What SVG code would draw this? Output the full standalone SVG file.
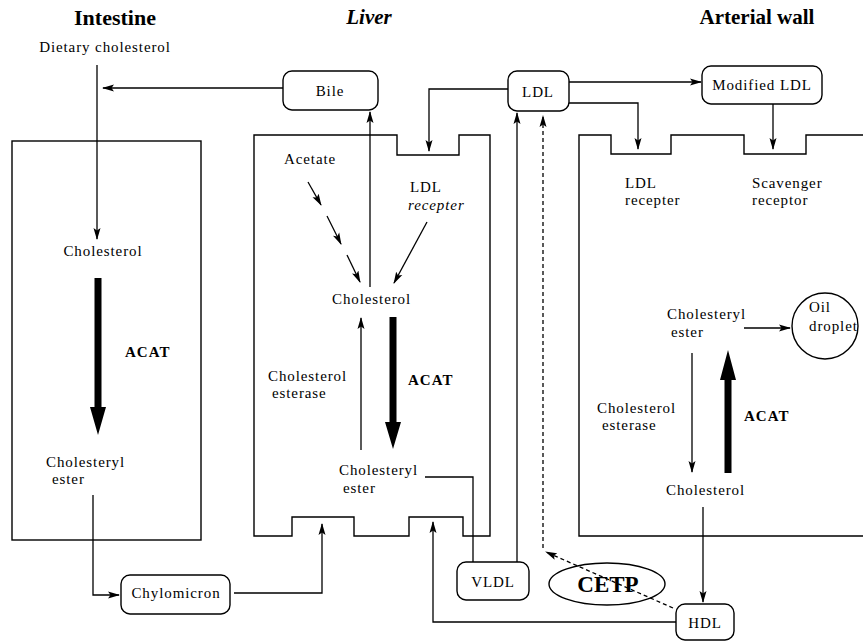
<svg xmlns="http://www.w3.org/2000/svg" width="863" height="641" viewBox="0 0 863 641">
<style>
text{font-family:"Liberation Serif","Times New Roman",serif;font-size:15px;letter-spacing:0.9px;fill:#000}
.t{font-weight:bold;font-size:21px;letter-spacing:0}
.b{font-weight:bold;letter-spacing:1px}
.c{text-anchor:middle}
.i{font-style:italic}
.box{fill:none;stroke:#000;stroke-width:1.4}
.node{fill:#fff;stroke:#000;stroke-width:1.4}
.ln{fill:none;stroke:#000;stroke-width:1.3}
.ar{marker-end:url(#ah)}
.dash{stroke-dasharray:4 3}
.thick{fill:#000;stroke:none}
</style>
<defs>
<marker id="ah" viewBox="0 0 12 8" refX="11" refY="4" markerWidth="12" markerHeight="8" markerUnits="userSpaceOnUse" orient="auto">
<path d="M0,0.5 L12,4 L0,7.5 L2.5,4 z" fill="#000"/>
</marker>
</defs>
<rect width="863" height="641" fill="#fff"/>

<g id="titles">
<text class="t c" x="115" y="25" style="font-size:22px">Intestine</text>
<text class="t c i" x="369" y="24">Liver</text>
<text class="t c" x="757" y="24">Arterial wall</text>
</g>

<g id="intestine">
<rect class="box" x="12" y="141" width="189" height="399"/>
<text class="c" x="105" y="52">Dietary cholesterol</text>
<text class="c" x="103" y="256">Cholesterol</text>
<path class="thick" d="M94.5,278 H101.5 V407 H106 L98,435 L90,407 H94.5 Z"/>
<text class="b" x="125" y="357">ACAT</text>
<text x="46" y="467">Cholesteryl</text>
<text x="52" y="484">ester</text>
</g>

<g id="liver">
<path class="box" d="M254,135 H397 V155 H459 V135 H490 V536 H463 V517 H409 V536 H354 V517 H292 V536 H254 Z"/>
<text x="284" y="164">Acetate</text>
<text x="410" y="192">LDL</text>
<text class="i" x="408" y="210">recepter</text>
<text x="332" y="304">Cholesterol</text>
<text x="268" y="381">Cholesterol</text>
<text x="272" y="398">esterase</text>
<path class="thick" d="M389.5,317 H396.5 V422 H401 L393,449 L385,422 H389.5 Z"/>
<text class="b" x="408" y="385">ACAT</text>
<text x="339" y="475">Cholesteryl</text>
<text x="343" y="493">ester</text>
</g>

<g id="arterial-wall">
<path class="box" d="M870,135 H806 V154 H744 V135 H671 V154 H611 V135 H579 V536 H870"/>
<text x="625" y="188">LDL</text>
<text x="625" y="205">recepter</text>
<text x="752" y="188">Scavenger</text>
<text x="752" y="205">receptor</text>
<text x="667" y="319">Cholesteryl</text>
<text x="671" y="337">ester</text>
<text x="597" y="413">Cholesterol</text>
<text x="602" y="430">esterase</text>
<path class="thick" d="M724.5,473 H731.5 V380 H736 L728,350 L720,380 H724.5 Z"/>
<text class="b" x="744" y="421">ACAT</text>
<text x="666" y="495">Cholesterol</text>
</g>

<g id="oil-droplet">
<circle class="node" cx="825" cy="326" r="33"/>
<text x="809" y="312">Oil</text>
<text x="809" y="331">droplet</text>
</g>

<g id="bile">
<rect class="node" x="283" y="71" width="95" height="39" rx="9"/>
<text class="c" x="330" y="96">Bile</text>
</g>

<g id="ldl">
<rect class="node" x="508" y="71" width="61" height="40" rx="9"/>
<text class="c" x="538" y="97">LDL</text>
</g>

<g id="modified-ldl">
<rect class="node" x="702" y="66" width="120" height="38" rx="9"/>
<text class="c" x="762" y="90">Modified LDL</text>
</g>

<g id="chylomicron">
<rect class="node" x="121" y="575" width="109" height="39" rx="9"/>
<text class="c" x="176" y="598">Chylomicron</text>
</g>

<g id="vldl">
<rect class="node" x="457" y="562" width="72" height="38" rx="9"/>
<text class="c" x="493" y="587">VLDL</text>
</g>

<g id="cetp">
<ellipse class="node" cx="607" cy="584" rx="58" ry="21"/>
<text class="c" x="608" y="592" style="font-weight:bold;font-size:23px;letter-spacing:0">CETP</text>
</g>

<g id="hdl">
<rect class="node" x="676" y="604" width="58" height="36" rx="9"/>
<text class="c" x="705" y="628">HDL</text>
</g>

<g id="connectors">
<path class="ln ar" d="M97,65 V239"/>
<path class="ln ar" d="M283,88 H103"/>
<path class="ln ar" d="M93,495 V595 H119"/>
<path class="ln ar" d="M234,593 H322 V524"/>
<path class="ln ar" d="M370,287 V112"/>
<path class="ln ar" d="M308,182 L321,205"/>
<path class="ln ar" d="M327,216 L341,244"/>
<path class="ln ar" d="M347,255 L360,282"/>
<path class="ln ar" d="M427,222 L394,283"/>
<path class="ln ar" d="M361,450 V318"/>
<path class="ln" d="M425,477 H473 V562"/>
<path class="ln ar" d="M517,562 V113"/>
<path class="ln ar" d="M508,89 H429 V151"/>
<path class="ln ar" d="M569,82 H701"/>
<path class="ln ar" d="M569,103 H638 V149"/>
<path class="ln ar" d="M773,104 V149"/>
<path class="ln ar" d="M744,328 H790"/>
<path class="ln ar" d="M692,353 V472"/>
<path class="ln ar" d="M703,507 V602"/>
<path class="ln ar" d="M676,622 H433 V522"/>
<path class="ln ar dash" d="M673,608 L546,552"/>
<path class="ln ar dash" d="M543,548 V116"/>
</g>
</svg>
